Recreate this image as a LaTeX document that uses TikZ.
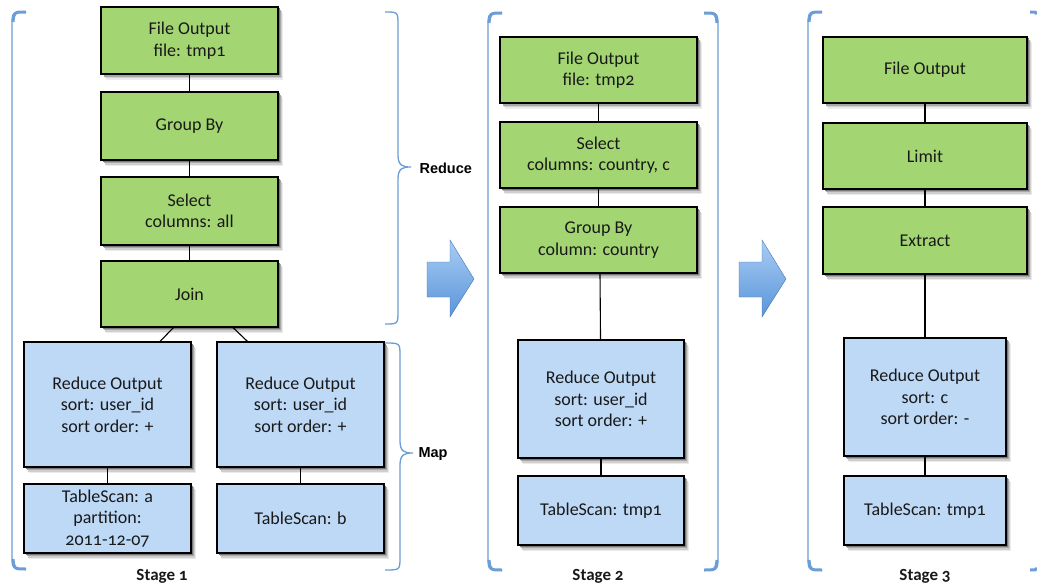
\documentclass[tikz,border=0pt]{standalone}
\usepackage{fontspec}
\setmainfont{Carlito}[Numbers=OldStyle]
\newfontfamily\sidefont{Liberation Sans}

\definecolor{opgreen}{HTML}{A3D672}
\definecolor{opblue}{HTML}{BED9F6}
\definecolor{brk}{HTML}{6C9DD6}
\definecolor{arrtop}{HTML}{A8CCF4}
\definecolor{arrbot}{HTML}{5A95DA}
\definecolor{shadeA}{HTML}{EBEBEB}
\definecolor{shadeB}{HTML}{CFCFCF}
\definecolor{shadeC}{HTML}{A8A8A8}
\definecolor{shadeD}{HTML}{7A7A7A}

\begin{document}
\begin{tikzpicture}[x=1pt,y=-1pt]
\tikzstyle{op}=[rectangle,draw=black,line width=1.1pt,inner sep=0pt,align=center,
  font=\fontsize{18}{21.5}\selectfont,text=black!90]
\tikzstyle{red}=[op,fill=opgreen]
\tikzstyle{map}=[op,fill=opblue]
\tikzstyle{link}=[draw=black,line width=1.1pt]
\tikzstyle{bracket}=[draw=brk,line width=1.3pt]
\tikzstyle{bracketend}=[draw=brk,line width=3pt]
\tikzstyle{stage}=[font=\fontsize{17}{20}\selectfont\bfseries,text=black!90]
\tikzstyle{side}=[font=\sidefont\fontsize{14.5}{17}\selectfont\bfseries,anchor=west]
\tikzstyle{step arrow}=[top color=arrtop,bottom color=arrbot,draw=arrbot!80!black,line width=0.4pt]

\useasboundingbox (0,0) rectangle (1037,586);

% brackets round the stages
\draw[bracket] (26,12) .. controls (12,12) .. (12,26) -- (12,555) .. controls (12,569) .. (26,569);
\draw[bracketend] (26,12) .. controls (14,12) .. (13,22);
\draw[bracketend] (26,569) .. controls (14,569) .. (13,559);
\draw[bracket] (502,13) .. controls (488,13) .. (488,27) -- (488,556) .. controls (488,570) .. (502,570);
\draw[bracketend] (502,13) .. controls (490,13) .. (489,23);
\draw[bracketend] (502,570) .. controls (490,570) .. (489,560);
\draw[bracket] (704,13) .. controls (718,13) .. (718,27) -- (718,556) .. controls (718,570) .. (704,570);
\draw[bracketend] (704,13) .. controls (716,13) .. (717,23);
\draw[bracketend] (704,570) .. controls (716,570) .. (717,560);
\draw[bracket] (822,12) .. controls (808,12) .. (808,26) -- (808,556) .. controls (808,570) .. (822,570);
\draw[bracketend] (822,12) .. controls (810,12) .. (809,22);
\draw[bracketend] (822,570) .. controls (810,570) .. (809,560);
\draw[bracketend] (1030,12) .. controls (1036,12) .. (1037,14);
\draw[bracketend] (1030,570) .. controls (1036,570) .. (1037,568);

% reduce / map braces
\draw[bracket] (385,12) .. controls (398,12) .. (398,25) -- (398,155)
  .. controls (398,166) and (403,167) .. (411,167)
  .. controls (403,167) and (398,168) .. (398,179) -- (398,311)
  .. controls (398,324) .. (385,324);
\draw[bracket] (385,343) .. controls (400,343) .. (400,356) -- (400,441)
  .. controls (400,452) and (405,453) .. (413,453)
  .. controls (405,453) and (400,454) .. (400,465) -- (400,557)
  .. controls (400,570) .. (385,570);
\node[side] (reduce) at (416,168) {Reduce};
\node[side] (map) at (415,454) {Map};

% soft shadows: left, top, right, bottom of every operator box
\foreach \l/\t/\r/\b in {101/7/278/74, 101/92/278/160, 101/177/278/245, 101/261/278/327,
    24/342/191/467, 217/342/384/467, 24/484/191/553, 217/484/384/553,
    500/37/697/103, 500/122/697/188, 500/207/697/273, 518/340/684/458, 518/476/684/545,
    823/37/1027/103, 823/123/1027/189, 823/207/1027/274, 844/338/1006/456, 844/476/1006/545}{
  \fill[shadeA] (\l+4.5,\t+6) rectangle (\r+4.5,\b+6);
  \fill[shadeB] (\l+3.5,\t+4.5) rectangle (\r+3.5,\b+4.5);
  \fill[shadeC] (\l+2.5,\t+3) rectangle (\r+2.5,\b+3);
  \fill[shadeD] (\l+1.5,\t+1.5) rectangle (\r+1.5,\b+1.5);
}

% stage 1
\node[red,minimum width=177pt,minimum height=67pt] (out1) at (189.5,40.5) {File Output\\file: tmp1};
\node[red,minimum width=177pt,minimum height=68pt] (group1) at (189.5,126) {Group By};
\node[red,minimum width=177pt,minimum height=68pt] (select1) at (189.5,211) {Select\\columns: all};
\node[red,minimum width=177pt,minimum height=66pt] (join1) at (189.5,294) {Join};
\node[map,minimum width=167pt,minimum height=125pt] (rsa) at (107.5,404.5) {Reduce Output\\sort: user\_id\\sort order: +};
\node[map,minimum width=167pt,minimum height=125pt] (rsb) at (300.5,404.5) {Reduce Output\\sort: user\_id\\sort order: +};
\node[map,minimum width=167pt,minimum height=69pt] (tsa) at (107.5,518.5) {TableScan: a\\partition:\\2011-12-07};
\node[map,minimum width=167pt,minimum height=69pt] (tsb) at (300.5,518.5) {TableScan: b};
\node[stage] (stage1) at (162,576) {Stage 1};

% stage 2
\node[red,minimum width=197pt,minimum height=66pt] (out2) at (598.5,70) {File Output\\file: tmp2};
\node[red,minimum width=197pt,minimum height=66pt] (select2) at (598.5,155) {Select\\columns: country, c};
\node[red,minimum width=197pt,minimum height=66pt] (group2) at (598.5,240) {Group By\\column: country};
\node[map,minimum width=166pt,minimum height=118pt] (rs2) at (601,399) {Reduce Output\\sort: user\_id\\sort order: +};
\node[map,minimum width=166pt,minimum height=69pt] (ts2) at (601,510.5) {TableScan: tmp1};
\node[stage] (stage2) at (598,576) {Stage 2};

% stage 3
\node[red,minimum width=204pt,minimum height=66pt] (out3) at (925,70) {File Output};
\node[red,minimum width=204pt,minimum height=66pt] (limit3) at (925,156) {Limit};
\node[red,minimum width=204pt,minimum height=67pt] (extract3) at (925,240.5) {Extract};
\node[map,minimum width=162pt,minimum height=118pt] (rs3) at (925,397) {Reduce Output\\sort: c\\sort order: -};
\node[map,minimum width=162pt,minimum height=69pt] (ts3) at (925,510.5) {TableScan: tmp1};
\node[stage] (stage3) at (925,576) {Stage 3};

% operator links
\draw[link] (out1) -- (group1);
\draw[link] (group1) -- (select1);
\draw[link] (select1) -- (join1);
\draw[link] ([xshift=-16pt]join1.south) -- ([xshift=52.5pt]rsa.north);
\draw[link] ([xshift=43.5pt]join1.south) -- ([xshift=-53pt]rsb.north);
\draw[link] (rsa) -- (tsa);
\draw[link] (rsb) -- (tsb);
\draw[link] (out2) -- (select2);
\draw[link] (select2) -- (group2);
\draw[link] ([xshift=1.5pt]group2.south) -- (rs2);
\draw[link] (rs2) -- (ts2);
\draw[link] (out3) -- (limit3);
\draw[link] (limit3) -- (extract3);
\draw[link] (extract3) -- (rs3);
\draw[link] (rs3) -- (ts3);

% arrows between stages
\shadedraw[step arrow] (427,262) -- (450,262) -- (450,240) -- (474,279) -- (450,317) -- (450,297) -- (427,297) -- cycle;
\shadedraw[step arrow] (739,262) -- (762,262) -- (762,240) -- (786,279) -- (762,317) -- (762,297) -- (739,297) -- cycle;
\end{tikzpicture}
\end{document}
